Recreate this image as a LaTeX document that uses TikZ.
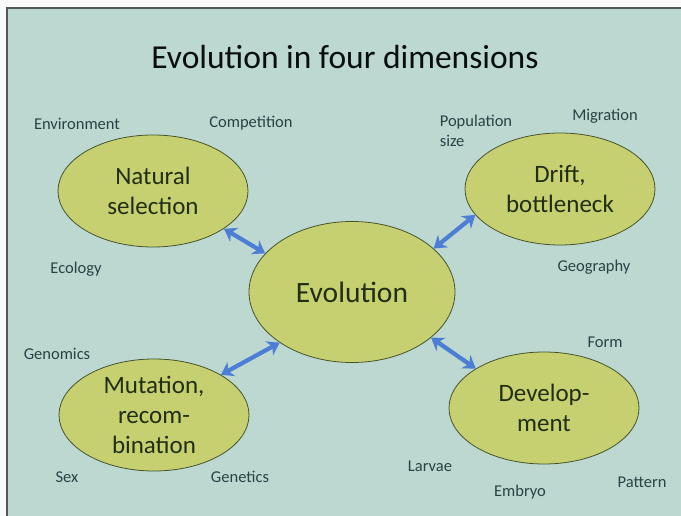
\documentclass[tikz,border=0pt]{standalone}
\usepackage{fontspec}
\setmainfont{Carlito}
\usetikzlibrary{arrows.meta}
\usetikzlibrary{shapes.geometric}

\definecolor{slidebg}{RGB}{188,216,208}
\definecolor{slideedge}{RGB}{80,88,92}
\definecolor{ovalfill}{RGB}{198,208,112}
\definecolor{ovalline}{RGB}{70,84,46}
\definecolor{ovaltext}{RGB}{34,46,18}
\definecolor{labeltext}{RGB}{40,66,70}
\definecolor{linkblue}{RGB}{76,126,214}

\begin{document}
\begin{tikzpicture}[x=1pt, y=-1pt,
    topic/.style={draw=ovalline, line width=0.8pt, fill=ovalfill, ellipse,
        minimum width=190pt, minimum height=112pt, inner sep=0pt,
        align=center, text=ovaltext, font=\fontsize{25}{30}\selectfont},
    keyword/.style={text=labeltext, inner sep=0pt, font=\fontsize{16.5}{19.5}\selectfont},
    link/.style={line width=4.2pt, linkblue,
        {Stealth[length=12pt,width=16pt]}-{Stealth[length=12pt,width=16pt]}}]
    \useasboundingbox (0,0) rectangle (681,516);
    \fill[black!2] (0,0) rectangle (681,516);
    \fill[slidebg] (7,8) rectangle (681,516);
    \draw[slideedge, line width=1.8pt] (7,516) -- (7,8) -- (681,8);

    \node[text=black!80!labeltext, font=\fontsize{33.5}{40}\selectfont, anchor=base] (title) at (345,69) {Evolution in four dimensions};

        \node[topic] (natsel) at (153,191) {Natural\\selection};
        \node[topic] (drift) at (560,189) {Drift,\\bottleneck};
        \node[topic, minimum width=206pt, minimum height=141pt, font=\fontsize{29.5}{34}\selectfont] (evo) at (352,292) {Evolution};
        \node[topic] (mut) at (154,415) {Mutation,\\recom-\\bination};
        \node[topic] (dev) at (544,408) {Develop-\\ment};

        \node[keyword] (env) at (77,124) {Environment};
        \node[keyword] (comp) at (251,123) {Competition};
        \node[keyword] (eco) at (76,269) {Ecology};
        \node[keyword, align=left] (popsize) at (476,131) {Population\\size};
        \node[keyword] (migr) at (605,116) {Migration};
        \node[keyword] (geo) at (594,267) {Geography};
        \node[keyword] (genom) at (57,354) {Genomics};
        \node[keyword] (sex) at (67,477) {Sex};
        \node[keyword] (genet) at (240,477) {Genetics};
        \node[keyword] (form) at (605,342) {Form};
        \node[keyword] (larv) at (430,466) {Larvae};
        \node[keyword] (embr) at (520,492) {Embryo};
        \node[keyword] (patt) at (642,482) {Pattern};

        \draw[link] (natsel.-28) -- (evo.156);
        \draw[link] (evo.28) -- (drift.197);
        \draw[link] (mut.31) -- (evo.215);
        \draw[link] (evo.-30) -- (dev.150);
\end{tikzpicture}
\end{document}
